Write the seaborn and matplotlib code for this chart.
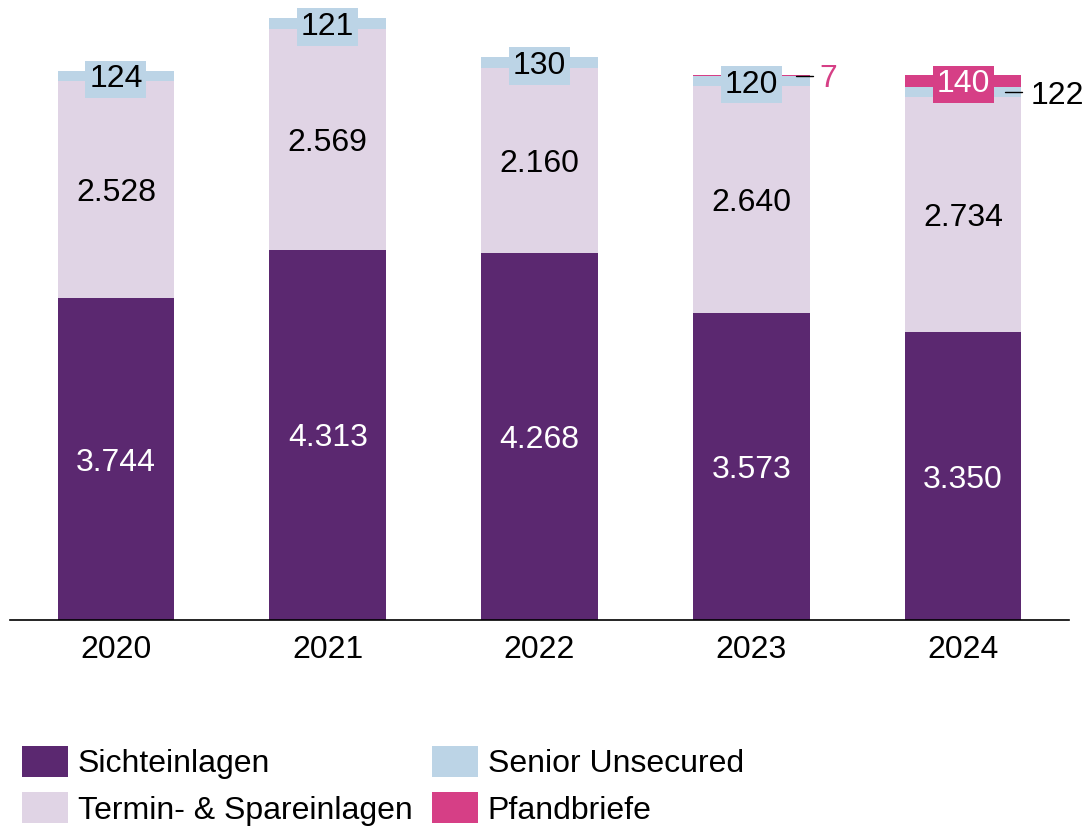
import seaborn as sns
import numpy as np
import pandas as pd
import matplotlib.pyplot as plt
from matplotlib.patches import Patch

years = ['2020', '2021', '2022', '2023', '2024']
sicht = [3744, 4313, 4268, 3573, 3350]
termin = [2528, 2569, 2160, 2640, 2734]
senior = [124, 121, 130, 120, 122]
pfand = [0, 0, 0, 7, 140]

labels = ['Sichteinlagen', 'Termin- & Spareinlagen', 'Senior Unsecured', 'Pfandbriefe']
colors = ['#5b2870', '#e0d4e5', '#bcd4e6', '#d63f86']

sns.set_style('white')
plt.rcParams['font.family'] = ['Liberation Sans', 'DejaVu Sans']
plt.rcParams['text.color'] = 'black'
plt.rcParams['xtick.color'] = 'black'
fs = 23

df = pd.DataFrame({'Jahr': years, 'Sicht': sicht, 'Termin': termin,
                   'Senior': senior, 'Pfand': pfand})
df['c1'] = df['Sicht']
df['c2'] = df['c1'] + df['Termin']
df['c3'] = df['c2'] + df['Senior']
df['c4'] = df['c3'] + df['Pfand']

fig = plt.figure(figsize=(10.89, 8.27), dpi=100)
ax = fig.add_axes([10 / 1089, 207 / 827, 1059 / 1089, 610 / 827])

# stacked bars by overlapping cumulative sums
for col, c in zip(['c4', 'c3', 'c2', 'c1'], colors[::-1]):
    sns.barplot(data=df, x='Jahr', y=col, color=c, width=0.55,
                linewidth=0, saturation=1, ax=ax)

ax.set_xlim(-0.5, 4.5)
ax.set_ylim(0, 610 / 0.0859)
ax.set_xlabel('')
ax.set_ylabel('')
ax.set_yticks([])
ax.tick_params(axis='x', length=0, labelsize=fs, pad=11, labelcolor='black')
for s in ['top', 'right', 'left']:
    ax.spines[s].set_visible(False)
ax.spines['bottom'].set_color('black')
ax.spines['bottom'].set_linewidth(1.2)

def fmt(v):
    return f'{v:,}'.replace(',', '.')

for i in range(len(years)):
    ax.text(i, sicht[i] / 2, fmt(sicht[i]), ha='center', va='center_baseline',
            color='white', fontsize=fs)
    ax.text(i, sicht[i] + termin[i] / 2, fmt(termin[i]), ha='center',
            va='center_baseline', color='black', fontsize=fs)

# senior unsecured labels (boxed) for 2020-2023
for i in range(4):
    y = df['c2'][i] + senior[i] / 2
    ax.text(i, y, str(senior[i]), ha='center', va='center_baseline', color='black',
            fontsize=fs, bbox=dict(boxstyle='square,pad=0.12', fc=colors[2], ec='none'))

# 2023 Pfandbriefe tiny value
y = df['c3'][3]
ax.plot([3 + 0.21, 3 + 0.29], [y, y], color='black', lw=1)
ax.text(3 + 0.32, y, str(pfand[3]), ha='left', va='center_baseline',
        color=colors[3], fontsize=fs)

# 2024 Pfandbriefe boxed, senior outside
y = df['c3'][4] + pfand[4] / 2
ax.text(4, y, str(pfand[4]), ha='center', va='center_baseline', color='white',
        fontsize=fs, bbox=dict(boxstyle='square,pad=0.12', fc=colors[3], ec='none'))
y = df['c2'][4] + senior[4] / 2
ax.plot([4 + 0.20, 4 + 0.28], [y, y], color='black', lw=1)
ax.text(4 + 0.32, y, str(senior[4]), ha='left', va='center_baseline',
        color='black', fontsize=fs)

handles = [Patch(facecolor=c, edgecolor='none') for c in colors]
leg = fig.legend(handles, labels, ncol=2, loc='upper left',
                 bbox_to_anchor=(22 / 1089, 1 - 746 / 827), frameon=False,
                 fontsize=fs, handlelength=1.44, handleheight=1.125,
                 handletextpad=0.31, labelspacing=0.4, columnspacing=0.6,
                 borderpad=0, borderaxespad=0)
for t in leg.get_texts():
    t.set_color('black')

fig.savefig('out.png', dpi=100)
